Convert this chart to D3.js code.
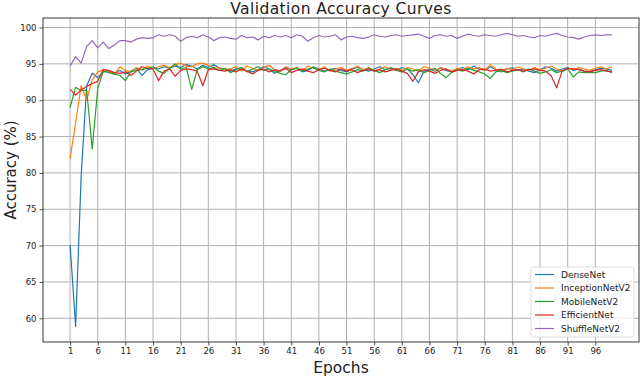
<!DOCTYPE html>
<html>
<head>
<meta charset="utf-8">
<script src="https://cdn.jsdelivr.net/npm/d3@7"></script>
<style>
  body { margin: 0; background: #fff; }
  text { font-family: "DejaVu Sans", sans-serif; }
</style>
</head>
<body>
<svg width="640" height="377"></svg>
<script>
// validation accuracy per epoch
const epochs = d3.range(1, 100);
const xTicks = [1, 6, 11, 16, 21, 26, 31, 36, 41, 46, 51, 56, 61, 66, 71, 76, 81, 86, 91, 96];
const yTicks = [60, 65, 70, 75, 80, 85, 90, 95, 100];
const seriesNames = ['DenseNet', 'InceptionNetV2', 'MobileNetV2', 'EfficientNet', 'ShuffleNetV2'];
const colors = ['#1f77b4', '#ff7f0e', '#2ca02c', '#d62728', '#9467bd'];

const denseNet = [
  70.1, 58.9, 79.5, 92.0, 93.7, 93.1, 93.9, 94.0, 93.7, 94.1,
  93.6, 94.0, 94.4, 93.4, 94.2, 94.4, 94.3, 94.6, 94.4, 94.7,
  94.5, 94.9, 94.7, 94.3, 94.8, 94.5, 94.9, 94.4, 94.2, 94.0,
  94.3, 94.5, 94.0, 93.9, 94.2, 94.6, 94.3, 93.7, 94.1, 94.5,
  94.2, 94.4, 93.9, 94.1, 94.6, 94.3, 94.0, 94.2, 94.4, 94.1,
  93.9, 94.3, 94.5, 94.2, 94.0, 94.3, 94.6, 94.2, 94.4, 94.1,
  94.5, 94.3, 93.5, 92.4, 94.0, 94.3, 94.0, 94.4, 94.1, 93.9,
  94.3, 94.5, 94.2, 94.7, 94.3, 94.1, 94.6, 94.2, 93.9, 94.3,
  94.5, 94.1, 94.3, 94.0, 93.8, 94.2, 94.6, 94.4, 94.0, 94.3,
  94.5, 94.1, 94.3, 94.0, 93.9, 94.2, 94.4, 94.3, 94.1
];
const inceptionNet = [
  82.0, 86.9, 92.0, 90.0, 92.8, 93.9, 94.2, 93.9, 93.6, 94.6,
  94.1, 93.9, 94.5, 94.2, 94.7, 94.4, 94.6, 94.8, 94.5, 94.9,
  95.1, 94.7, 94.6, 95.0, 95.1, 94.8, 94.4, 94.5, 94.2, 94.3,
  94.6, 94.0, 94.7, 94.4, 94.1, 94.5, 94.8, 94.2, 94.0, 94.6,
  94.3, 94.5, 94.1, 94.7, 94.4, 94.2, 94.6, 94.0, 94.3, 94.5,
  94.1, 94.4, 94.7, 94.2, 94.5, 94.0, 94.3, 94.6, 94.2, 94.4,
  94.1, 94.5, 94.3, 94.0, 94.6, 94.4, 94.1, 94.5, 94.3, 94.0,
  94.4, 94.2, 94.6, 94.3, 94.5, 94.1, 94.9, 94.3, 94.0, 94.4,
  94.2, 94.6, 94.3, 94.1, 94.5, 94.2, 94.4, 94.7, 94.3, 94.0,
  94.4, 94.2, 94.5, 94.3, 94.1, 94.4, 94.6, 94.3, 94.6
];
const mobileNet = [
  89.0, 91.8, 91.3, 91.4, 83.3, 91.6, 94.0, 93.8, 93.6, 93.4,
  92.7, 93.9, 94.1, 94.2, 94.4, 94.6, 94.0, 93.7, 94.4, 95.0,
  94.3, 94.5, 91.5, 94.2, 94.6, 94.3, 94.5, 94.1, 94.4, 93.8,
  94.2, 94.5, 93.9, 94.3, 94.6, 94.1, 94.3, 94.0, 93.7, 93.5,
  94.2, 94.4, 94.0, 94.3, 94.5, 94.1, 93.9, 94.3, 94.0, 93.8,
  93.6, 93.9, 94.2, 94.0, 94.4, 94.1, 93.8, 94.2, 94.5, 94.1,
  93.9, 94.3, 94.0, 94.2, 93.8, 94.1, 94.4, 93.7, 93.1, 93.8,
  94.2, 94.0, 94.4, 94.1, 93.9, 93.6, 93.0, 93.9, 94.1, 93.8,
  94.0, 94.2, 93.9, 94.3, 94.0, 93.7, 93.9, 94.2, 93.8, 94.0,
  94.3, 93.2, 93.9, 93.8, 93.8, 93.8, 94.0, 94.1, 93.8
];
const efficientNet = [
  91.5, 90.7, 91.4, 91.9, 92.3, 92.6, 94.2, 94.1, 93.8, 93.7,
  93.9, 93.4, 94.0, 94.6, 94.4, 94.3, 92.7, 94.0, 94.3, 93.3,
  94.1, 94.3, 94.2, 94.0, 92.0, 94.2, 94.3, 94.1, 94.0, 94.2,
  93.9, 94.3, 94.0, 93.6, 94.1, 94.3, 93.9, 94.2, 94.0, 94.4,
  93.8, 94.1, 94.3, 94.0, 93.8, 94.2, 94.4, 94.1, 93.9, 94.3,
  94.0, 94.2, 93.8, 94.1, 94.3, 94.0, 94.2, 93.9, 94.1, 94.3,
  94.0, 93.7, 92.6, 93.9, 94.2, 94.0, 93.7, 94.1, 94.3, 93.9,
  94.1, 94.2, 94.0, 93.6, 94.2, 94.3, 94.0, 94.1, 94.3, 93.9,
  94.1, 94.2, 94.0, 94.2, 94.3, 94.1, 94.0, 93.4, 91.7, 94.0,
  94.4, 94.3, 94.2, 94.0, 93.9, 94.1, 94.2, 94.0, 93.9
];
const shuffleNet = [
  94.7, 96.0, 95.1, 97.4, 98.2, 97.2, 98.0, 97.1, 97.6, 98.2,
  98.2, 98.0, 98.4, 98.6, 98.5, 98.6, 99.0, 98.8, 99.0, 98.8,
  98.1, 98.6, 98.8, 98.6, 99.0, 98.7, 98.2, 98.6, 98.7, 98.5,
  98.4, 98.9, 98.6, 98.7, 98.3, 98.8, 98.6, 98.9, 98.7, 98.9,
  98.6, 99.0, 98.8, 98.1, 98.6, 98.9, 98.7, 98.8, 99.0, 98.3,
  98.7, 98.8, 98.6, 98.5, 98.7, 99.0, 98.8, 98.7, 98.9, 99.0,
  98.8, 98.9, 99.0, 99.1, 98.8, 98.5, 98.9, 99.0, 98.8, 98.9,
  98.5, 98.8, 99.1, 98.9, 98.8, 99.0, 98.9, 98.8, 99.0, 99.2,
  99.0, 98.8, 98.9, 98.7, 98.6, 98.9, 98.8, 99.0, 99.2, 98.9,
  98.7, 98.6, 98.4, 98.7, 98.9, 99.0, 98.9, 99.0, 99.0
];
const seriesValues = [denseNet, inceptionNet, mobileNet, efficientNet, shuffleNet];

const svg = d3.select('svg');
const plotLeft = 43, plotRight = 639, plotTop = 18, plotBottom = 342;

// scales, with matplotlib-like 5% margins
const x = d3.scaleLinear().domain([-3.9, 103.9]).range([plotLeft, plotRight]);
const y = d3.scaleLinear().domain([56.74, 101.31]).range([plotBottom, plotTop]);

// grid
svg.append('g')
  .selectAll('line')
  .data(xTicks)
  .enter()
  .append('line')
  .attr('x1', d => x(d)).attr('x2', d => x(d))
  .attr('y1', plotTop).attr('y2', plotBottom)
  .attr('stroke', '#b0b0b0').attr('stroke-width', 1);

svg.append('g')
  .selectAll('line')
  .data(yTicks)
  .enter()
  .append('line')
  .attr('x1', plotLeft).attr('x2', plotRight)
  .attr('y1', d => y(d)).attr('y2', d => y(d))
  .attr('stroke', '#b0b0b0').attr('stroke-width', 1);

// axes
const xAxis = svg.append('g')
  .attr('transform', `translate(0,${plotBottom})`)
  .call(d3.axisBottom(x).tickValues(xTicks).tickSize(3.5).tickPadding(2));
const yAxis = svg.append('g')
  .attr('transform', `translate(${plotLeft},0)`)
  .call(d3.axisLeft(y).tickValues(yTicks).tickSize(3.5).tickPadding(3));

[xAxis, yAxis].forEach(a => {
  a.select('.domain').remove();
  a.selectAll('text').attr('font-size', 8.5).attr('fill', '#222')
    .style('font-family', '"DejaVu Sans", sans-serif');
  a.selectAll('line').attr('stroke', '#222').attr('stroke-width', 0.8);
});

// lines
const line = d3.line()
  .x((d, i) => x(epochs[i]))
  .y(d => y(d));

svg.append('g')
  .selectAll('path')
  .data(seriesValues)
  .enter()
  .append('path')
  .attr('d', d => line(d))
  .attr('fill', 'none')
  .attr('stroke', (d, i) => colors[i])
  .attr('stroke-width', 1.2)
  .attr('stroke-linejoin', 'round');

// frame
svg.append('rect')
  .attr('x', plotLeft).attr('y', plotTop)
  .attr('width', plotRight - plotLeft).attr('height', plotBottom - plotTop)
  .attr('fill', 'none').attr('stroke', '#222').attr('stroke-width', 0.9);

// title and labels
svg.append('text')
  .attr('x', (plotLeft + plotRight) / 2).attr('y', 14)
  .attr('text-anchor', 'middle').attr('font-size', 15.5)
  .attr('letter-spacing', 0.4).attr('fill', '#222')
  .text('Validation Accuracy Curves');

svg.append('text')
  .attr('x', (plotLeft + plotRight) / 2).attr('y', 373)
  .attr('text-anchor', 'middle').attr('font-size', 15.5).attr('fill', '#222')
  .text('Epochs');

svg.append('text')
  .attr('transform', 'translate(16,170) rotate(-90)')
  .attr('text-anchor', 'middle').attr('font-size', 15).attr('fill', '#222')
  .text('Accuracy (%)');

// legend
const legend = svg.append('g').attr('transform', 'translate(531,267)');
legend.append('rect')
  .attr('width', 103).attr('height', 70).attr('rx', 2)
  .attr('fill', '#fff').attr('fill-opacity', 0.8)
  .attr('stroke', '#d5d5d5').attr('stroke-width', 0.8);

const items = legend.selectAll('g.item')
  .data(seriesNames)
  .enter()
  .append('g')
  .attr('class', 'item')
  .attr('transform', (d, i) => `translate(0,${7.5 + i * 13.5})`);

items.append('line')
  .attr('x1', 4).attr('x2', 23)
  .attr('stroke', (d, i) => colors[i]).attr('stroke-width', 1.2);

items.append('text')
  .attr('x', 30).attr('y', 3.3)
  .attr('font-size', 9).attr('fill', '#222')
  .text(d => d);
</script>
</body>
</html>
